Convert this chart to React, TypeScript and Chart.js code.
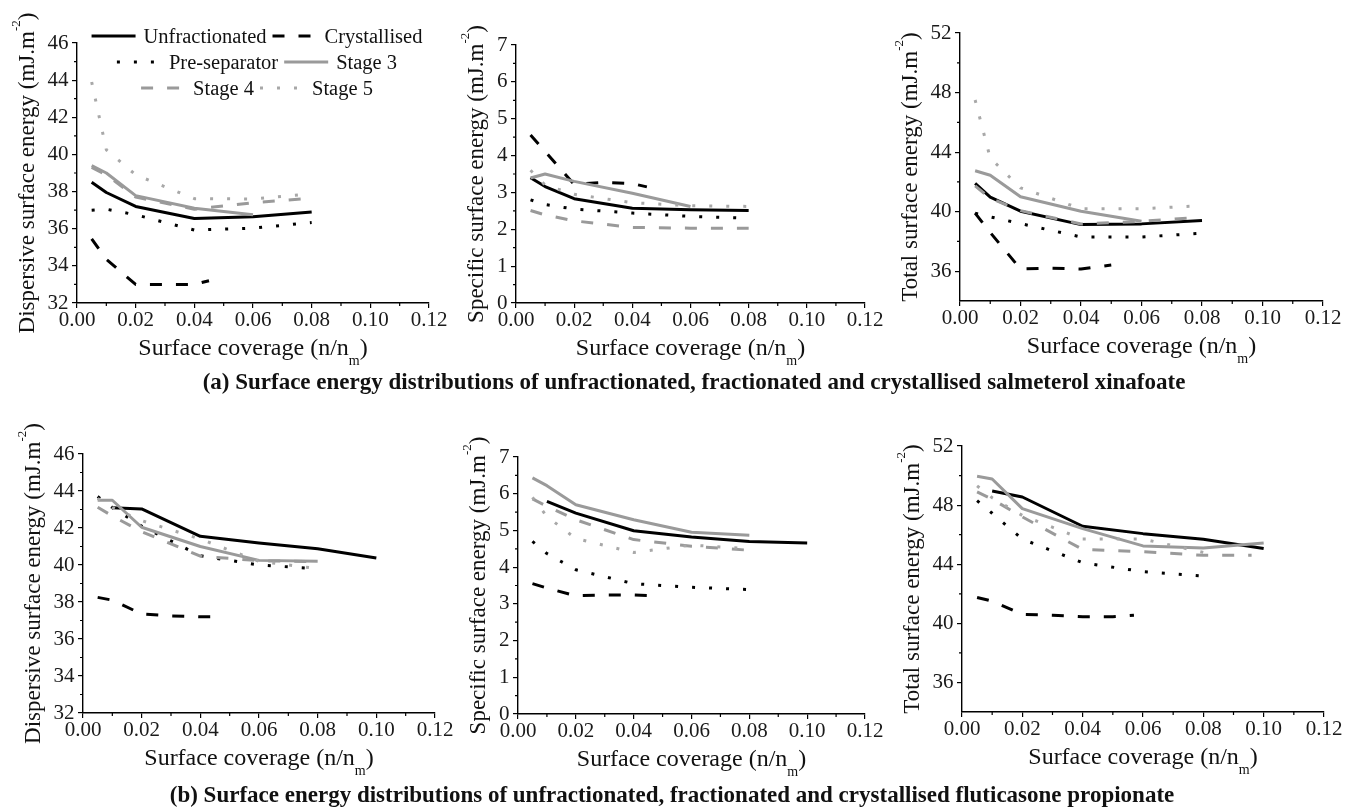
import React, { useEffect, useRef } from 'react';
import { Chart, registerables } from 'chart.js';

Chart.register(...registerables);

const SERIF = '"Liberation Serif", "Times New Roman", Times, serif';

// ---------- coverage (x) values ----------
const coverage = [0.005, 0.01, 0.02, 0.04, 0.06, 0.08];
const coverageTo006 = [0.005, 0.01, 0.02, 0.04, 0.06];
const coverageFrom001 = [0.01, 0.02, 0.04, 0.06, 0.08, 0.1];
const coverageTo01 = [0.005, 0.01, 0.02, 0.04, 0.06, 0.08, 0.1];

// ---------- (a) salmeterol xinafoate ----------
const salDispUnfrac = [38.5, 37.95, 37.2, 36.55, 36.65, 36.9];
const salDispCrystX = [0.005, 0.01, 0.02, 0.04, 0.045];
const salDispCryst = [35.45, 34.35, 33.0, 33.0, 33.2];
const salDispPreSep = [37.0, 37.05, 36.75, 35.93, 36.03, 36.33];
const salDispStage3 = [39.4, 39.0, 37.78, 37.1, 36.75];
const salDispStage4 = [39.3, 38.9, 37.7, 37.05, 37.4, 37.65];
const salDispStage5 = [43.9, 40.25, 38.9, 37.62, 37.6, 37.88];

const salSpecUnfrac = [3.4, 3.16, 2.83, 2.57, 2.53, 2.51];
const salSpecCrystX = [0.005, 0.02, 0.03, 0.04, 0.045];
const salSpecCryst = [4.56, 3.22, 3.27, 3.24, 3.15];
const salSpecPreSep = [2.8, 2.67, 2.55, 2.44, 2.35, 2.3];
const salSpecStage3 = [3.39, 3.5, 3.3, 2.98, 2.62];
const salSpecStage4 = [2.51, 2.39, 2.23, 2.05, 2.03, 2.03];
const salSpecStage5 = [3.6, 3.2, 2.95, 2.72, 2.64, 2.62];

const salTotUnfrac = [41.9, 40.97, 40.03, 39.13, 39.18, 39.4];
const salTotCrystX = [0.005, 0.01, 0.02, 0.03, 0.04, 0.05];
const salTotCryst = [39.9, 38.6, 36.15, 36.2, 36.15, 36.42];
const salTotPreSep = [39.9, 39.65, 39.2, 38.3, 38.3, 38.55];
const salTotStage3 = [42.75, 42.45, 41.0, 40.03, 39.35];
const salTotStage4X = [0.005, 0.01, 0.02, 0.04, 0.06, 0.076];
const salTotStage4 = [41.73, 40.9, 40.07, 39.17, 39.35, 39.58];
const salTotStage5 = [47.5, 43.6, 41.6, 40.2, 40.2, 40.4];

// ---------- (b) fluticasone propionate ----------
const fluDispUnfrac = [43.1, 43.03, 41.55, 41.19, 40.88, 40.38];
const fluDispCrystX = [0.005, 0.01, 0.02, 0.03, 0.04, 0.047];
const fluDispCryst = [38.25, 38.1, 37.35, 37.25, 37.2, 37.2];
const fluDispPreSep = [43.7, 43.1, 42.1, 40.5, 40.0, 39.8];
const fluDispStage3 = [43.5, 43.5, 42.04, 41.0, 40.25, 40.2];
const fluDispStage4 = [43.12, 42.65, 41.8, 40.48, 40.23, 40.18];
const fluDispStage5 = [43.6, 43.1, 42.4, 41.4, 40.2, 39.8];

const fluSpecUnfrac = [5.79, 5.47, 4.99, 4.82, 4.7, 4.66];
const fluSpecCrystX = [0.005, 0.01, 0.02, 0.03, 0.04, 0.048];
const fluSpecCryst = [3.55, 3.43, 3.22, 3.24, 3.24, 3.22];
const fluSpecPreSep = [4.7, 4.37, 3.93, 3.55, 3.45, 3.39];
const fluSpecStage3 = [6.43, 6.22, 5.7, 5.29, 4.95, 4.87];
const fluSpecStage4 = [5.86, 5.66, 5.29, 4.75, 4.57, 4.46];
const fluSpecStage5 = [5.9, 5.38, 4.78, 4.4, 4.6, 4.5];

const fluTotUnfrac = [48.96, 48.55, 46.57, 46.07, 45.69, 45.06];
const fluTotCrystX = [0.005, 0.01, 0.02, 0.03, 0.04, 0.05, 0.057];
const fluTotCryst = [41.75, 41.5, 40.6, 40.55, 40.45, 40.45, 40.55];
const fluTotPreSep = [48.3, 47.45, 45.7, 44.1, 43.5, 43.2];
const fluTotStage3 = [49.95, 49.77, 47.76, 46.41, 45.24, 45.1, 45.44];
const fluTotStage4X = [0.005, 0.01, 0.02, 0.04, 0.06, 0.08, 0.096];
const fluTotStage4 = [48.9, 48.4, 47.2, 45.0, 44.85, 44.6, 44.6];
const fluTotStage5 = [49.3, 48.5, 47.3, 45.7, 45.7, 44.8];

// ---------- ticks ----------
const xTickValues = [0, 0.02, 0.04, 0.06, 0.08, 0.1, 0.12];
const xMinorValues = [0.01, 0.03, 0.05, 0.07, 0.09, 0.11];
const dispTicks = [32, 34, 36, 38, 40, 42, 44, 46];
const dispMinor = [33, 35, 37, 39, 41, 43, 45];
const specTicks = [0, 1, 2, 3, 4, 5, 6, 7];
const specMinor = [0.5, 1.5, 2.5, 3.5, 4.5, 5.5, 6.5];
const totTicks = [36, 40, 44, 48, 52];
const totMinor = [38, 42, 46, 50];

const seriesNames = ['Unfractionated', 'Crystallised', 'Pre-separator', 'Stage 3', 'Stage 4', 'Stage 5'];

const STYLE: any = {
  'Unfractionated': { color: '#000000', width: 3, dash: [] },
  'Crystallised': { color: '#000000', width: 3, dash: [12, 14] },
  'Pre-separator': { color: '#000000', width: 3, dash: [3, 14] },
  'Stage 3': { color: '#9a9a9a', width: 3, dash: [] },
  'Stage 4': { color: '#9a9a9a', width: 3, dash: [12, 14] },
  'Stage 5': { color: '#a8a8a8', width: 3, dash: [3, 14] },
};

const legendRows = [
  ['Unfractionated', 'Crystallised'],
  ['Pre-separator', 'Stage 3'],
  ['Stage 4', 'Stage 5'],
];

const panels: any[] = [
  {
    key: 'a-disp', yTitle: 'Dispersive surface energy (mJ.m', yMin: 32, yMax: 46, yTicks: dispTicks, yMinor: dispMinor, legend: true,
    frame: { left: 0, top: 0, width: 455, height: 372 }, plot: { left: 77, top: 43, right: 429, bottom: 303 },
    series: [
      { name: 'Unfractionated', x: coverage, y: salDispUnfrac },
      { name: 'Crystallised', x: salDispCrystX, y: salDispCryst },
      { name: 'Pre-separator', x: coverage, y: salDispPreSep },
      { name: 'Stage 3', x: coverageTo006, y: salDispStage3 },
      { name: 'Stage 4', x: coverage, y: salDispStage4 },
      { name: 'Stage 5', x: coverage, y: salDispStage5 },
    ],
  },
  {
    key: 'a-spec', yTitle: 'Specific surface energy (mJ.m', yMin: 0, yMax: 7, yTicks: specTicks, yMinor: specMinor, legend: false,
    frame: { left: 450, top: 0, width: 440, height: 372 }, plot: { left: 516, top: 45, right: 865, bottom: 303 },
    series: [
      { name: 'Unfractionated', x: coverage, y: salSpecUnfrac },
      { name: 'Crystallised', x: salSpecCrystX, y: salSpecCryst },
      { name: 'Pre-separator', x: coverage, y: salSpecPreSep },
      { name: 'Stage 3', x: coverageTo006, y: salSpecStage3 },
      { name: 'Stage 4', x: coverage, y: salSpecStage4 },
      { name: 'Stage 5', x: coverage, y: salSpecStage5 },
    ],
  },
  {
    key: 'a-tot', yTitle: 'Total surface energy (mJ.m', yMin: 34, yMax: 52, yTicks: totTicks, yMinor: totMinor, legend: false,
    frame: { left: 885, top: 0, width: 461, height: 372 }, plot: { left: 960, top: 33, right: 1323, bottom: 301 },
    series: [
      { name: 'Unfractionated', x: coverage, y: salTotUnfrac },
      { name: 'Crystallised', x: salTotCrystX, y: salTotCryst },
      { name: 'Pre-separator', x: coverage, y: salTotPreSep },
      { name: 'Stage 3', x: coverageTo006, y: salTotStage3 },
      { name: 'Stage 4', x: salTotStage4X, y: salTotStage4 },
      { name: 'Stage 5', x: coverage, y: salTotStage5 },
    ],
  },
  {
    key: 'b-disp', yTitle: 'Dispersive surface energy (mJ.m', yMin: 32, yMax: 46, yTicks: dispTicks, yMinor: dispMinor, legend: false,
    frame: { left: 0, top: 405, width: 460, height: 380 }, plot: { left: 83, top: 454, right: 435, bottom: 713 },
    series: [
      { name: 'Unfractionated', x: coverageFrom001, y: fluDispUnfrac },
      { name: 'Crystallised', x: fluDispCrystX, y: fluDispCryst },
      { name: 'Pre-separator', x: coverage, y: fluDispPreSep },
      { name: 'Stage 3', x: coverage, y: fluDispStage3 },
      { name: 'Stage 4', x: coverage, y: fluDispStage4 },
      { name: 'Stage 5', x: coverage, y: fluDispStage5 },
    ],
  },
  {
    key: 'b-spec', yTitle: 'Specific surface energy (mJ.m', yMin: 0, yMax: 7, yTicks: specTicks, yMinor: specMinor, legend: false,
    frame: { left: 450, top: 405, width: 440, height: 380 }, plot: { left: 518, top: 457, right: 865, bottom: 714 },
    series: [
      { name: 'Unfractionated', x: coverageFrom001, y: fluSpecUnfrac },
      { name: 'Crystallised', x: fluSpecCrystX, y: fluSpecCryst },
      { name: 'Pre-separator', x: coverage, y: fluSpecPreSep },
      { name: 'Stage 3', x: coverage, y: fluSpecStage3 },
      { name: 'Stage 4', x: coverage, y: fluSpecStage4 },
      { name: 'Stage 5', x: coverage, y: fluSpecStage5 },
    ],
  },
  {
    key: 'b-tot', yTitle: 'Total surface energy (mJ.m', yMin: 34, yMax: 52, yTicks: totTicks, yMinor: totMinor, legend: false,
    frame: { left: 885, top: 405, width: 461, height: 380 }, plot: { left: 962, top: 446, right: 1324, bottom: 712 },
    series: [
      { name: 'Unfractionated', x: coverageFrom001, y: fluTotUnfrac },
      { name: 'Crystallised', x: fluTotCrystX, y: fluTotCryst },
      { name: 'Pre-separator', x: coverage, y: fluTotPreSep },
      { name: 'Stage 3', x: coverageTo01, y: fluTotStage3 },
      { name: 'Stage 4', x: fluTotStage4X, y: fluTotStage4 },
      { name: 'Stage 5', x: coverage, y: fluTotStage5 },
    ],
  },
];

function drawRich(ctx: any, parts: any[], cx: number, baseline: number) {
  let total = 0;
  const widths = parts.map((pt) => {
    ctx.font = `${pt.size}px ${SERIF}`;
    const w = ctx.measureText(pt.text).width;
    total += w;
    return w;
  });
  let x = cx - total / 2;
  ctx.textAlign = 'left';
  ctx.textBaseline = 'alphabetic';
  parts.forEach((pt, i) => {
    ctx.font = `${pt.size}px ${SERIF}`;
    ctx.fillText(pt.text, x, baseline + pt.dy);
    x += widths[i];
  });
}

function drawLegend(ctx: any, a: any) {
  const cx = (a.left + a.right) / 2 + 4;
  legendRows.forEach((row, r) => {
    const y = a.top - 7 + r * 26;
    ctx.font = `20.5px ${SERIF}`;
    const widths = row.map((n) => ctx.measureText(n).width);
    const total = row.length * 52 + widths.reduce((s, w) => s + w, 0) + 6 * (row.length - 1);
    let x = cx - total / 2;
    row.forEach((n, i) => {
      const st = STYLE[n];
      ctx.strokeStyle = st.color;
      ctx.lineWidth = st.width;
      ctx.lineCap = 'butt';
      ctx.setLineDash(st.dash);
      ctx.beginPath();
      ctx.moveTo(x, y);
      ctx.lineTo(x + 44, y);
      ctx.stroke();
      ctx.setLineDash([]);
      x += 52;
      ctx.fillStyle = '#111';
      ctx.textAlign = 'left';
      ctx.textBaseline = 'alphabetic';
      ctx.fillText(n, x, y + 7);
      x += widths[i] + 6;
    });
  });
}

function makeDecor(p: any) {
  return {
    id: 'decor',
    afterDraw(chart: any) {
      const ctx = chart.ctx;
      const a = chart.chartArea;
      const xs = chart.scales.x;
      const ys = chart.scales.y;
      ctx.save();
      ctx.strokeStyle = '#000';
      ctx.lineWidth = 1.2;
      ctx.setLineDash([]);
      ctx.beginPath();
      xMinorValues.forEach((v) => {
        const px = xs.getPixelForValue(v);
        ctx.moveTo(px, a.bottom);
        ctx.lineTo(px, a.bottom + 3);
      });
      p.yMinor.forEach((v: number) => {
        const py = ys.getPixelForValue(v);
        ctx.moveTo(a.left - 3, py);
        ctx.lineTo(a.left, py);
      });
      ctx.stroke();
      ctx.fillStyle = '#111';
      drawRich(ctx, [
        { text: 'Surface coverage (n/n', size: 24, dy: 0 },
        { text: 'm', size: 14, dy: 10 },
        { text: ')', size: 24, dy: 0 },
      ], (a.left + a.right) / 2, a.bottom + 52);
      ctx.font = `21px ${SERIF}`;
      const maxW = Math.max(...p.yTicks.map((v: number) => ctx.measureText(String(v)).width));
      const bx = a.left - 5 - 3.5 - maxW - 14;
      ctx.save();
      ctx.translate(bx, (a.top + a.bottom) / 2);
      ctx.rotate(-Math.PI / 2);
      drawRich(ctx, [
        { text: p.yTitle, size: 23, dy: 0 },
        { text: '-2', size: 13, dy: -14 },
        { text: ')', size: 23, dy: 0 },
      ], 0, 0);
      ctx.restore();
      if (p.legend) drawLegend(ctx, a);
      ctx.restore();
    },
  };
}

function Panel({ p }: { p: any }) {
  const ref = useRef<HTMLCanvasElement | null>(null);
  const f = p.frame;
  const a = p.plot;
  useEffect(() => {
    const canvas = ref.current;
    if (!canvas) return;
    const chart = new Chart(canvas, {
      type: 'line',
      data: {
        datasets: p.series.map((s: any) => {
          const st = STYLE[s.name];
          const idx = seriesNames.indexOf(s.name);
          return {
            label: s.name,
            data: s.x.map((x: number, i: number) => ({ x, y: s.y[i] })),
            borderColor: st.color,
            backgroundColor: st.color,
            borderWidth: st.width,
            borderDash: st.dash,
            borderCapStyle: 'butt',
            borderJoinStyle: 'round',
            pointRadius: 0,
            pointHoverRadius: 0,
            fill: false,
            tension: 0,
            order: 10 - idx,
          };
        }),
      },
      options: {
        responsive: false,
        maintainAspectRatio: false,
        animation: false,
        events: [],
        layout: { padding: { left: 0, top: a.top - f.top, right: f.left + f.width - a.right, bottom: 0 } },
        plugins: { legend: { display: false }, tooltip: { enabled: false }, title: { display: false } },
        scales: {
          x: {
            type: 'linear',
            min: 0,
            max: 0.12,
            afterBuildTicks: (s: any) => { s.ticks = xTickValues.map((v) => ({ value: v })); },
            afterFit: (s: any) => { s.height = f.top + f.height - a.bottom; },
            grid: { drawOnChartArea: false, drawTicks: true, tickLength: 5, color: '#000', lineWidth: 1.2 },
            border: { display: true, color: '#000', width: 1.4 },
            ticks: {
              font: { family: SERIF, size: 21 },
              color: '#1a1a1a',
              padding: 0,
              maxRotation: 0,
              autoSkip: false,
              callback: (v: any) => Number(v).toFixed(2),
            },
          },
          y: {
            type: 'linear',
            min: p.yMin,
            max: p.yMax,
            afterBuildTicks: (s: any) => { s.ticks = p.yTicks.map((v: number) => ({ value: v })); },
            afterFit: (s: any) => { s.width = a.left - f.left; },
            grid: { drawOnChartArea: false, drawTicks: true, tickLength: 5, color: '#000', lineWidth: 1.2 },
            border: { display: true, color: '#000', width: 1.4 },
            ticks: {
              font: { family: SERIF, size: 21 },
              color: '#1a1a1a',
              padding: 3.5,
              autoSkip: false,
              callback: (v: any) => String(v),
            },
          },
        },
      } as any,
      plugins: [makeDecor(p)],
    } as any);
    return () => chart.destroy();
  }, [p]);
  return (
    <canvas
      ref={ref}
      width={f.width}
      height={f.height}
      style={{ position: 'absolute', left: f.left, top: f.top, width: f.width, height: f.height }}
    />
  );
}

const captionStyle: any = {
  position: 'absolute',
  width: 1300,
  textAlign: 'center',
  fontFamily: SERIF,
  fontWeight: 'bold',
  fontSize: 23,
  lineHeight: '26px',
  color: '#111',
  whiteSpace: 'nowrap',
};

export default function App() {
  return (
    <div style={{ position: 'absolute', left: 0, top: 0, width: 1346, height: 809, background: '#ffffff', overflow: 'hidden' }}>
      {panels.map((p) => <Panel key={p.key} p={p} />)}
      <div style={{ ...captionStyle, left: 694 - 650, top: 369 }}>
        (a) Surface energy distributions of unfractionated, fractionated and crystallised salmeterol xinafoate
      </div>
      <div style={{ ...captionStyle, left: 672 - 650, top: 782 }}>
        (b) Surface energy distributions of unfractionated, fractionated and crystallised fluticasone propionate
      </div>
    </div>
  );
}
